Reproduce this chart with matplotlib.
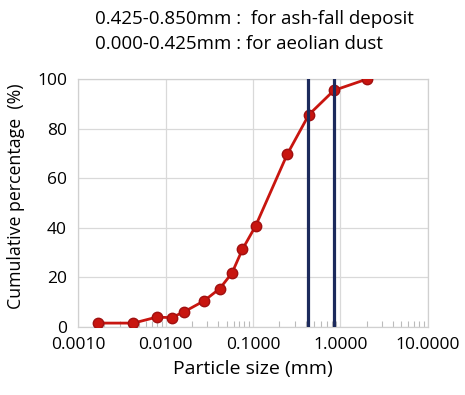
import matplotlib
matplotlib.use("Agg")
import matplotlib.pyplot as plt
from matplotlib.ticker import FixedLocator, LogLocator, NullFormatter

plt.rcParams["font.family"] = ["Open Sans", "DejaVu Sans"]

# sieve sizes (mm) and cumulative passing (%)
size_mm = [0.0017, 0.0043, 0.0079, 0.0117, 0.0162, 0.0274, 0.0417,
           0.0576, 0.0757, 0.107, 0.247, 0.436, 0.843, 2.03]
cum_pct = [1.6, 1.6, 4.0, 3.8, 6.1, 10.5, 15.5, 21.8, 31.3, 40.7,
           69.7, 85.6, 95.4, 100.0]
bounds_mm = [0.425, 0.850]
xticks = [0.001, 0.01, 0.1, 1.0, 10.0]
xticklabels = ["0.0010", "0.0100", "0.1000", "1.0000", "10.0000"]
yticks = [0, 20, 40, 60, 80, 100]

fig = plt.figure(figsize=(4.65, 3.95), dpi=100)
ax = fig.add_axes([0.168, 0.172, 0.752, 0.628])

ax.plot(size_mm, cum_pct, color="#c8150f", lw=2, marker="o", ms=7.5,
        mfc="#c8150f", mec="#a01010", zorder=3)
for b in bounds_mm:
    ax.axvline(b, color="#1c2a5c", lw=2.3, zorder=4)

ax.set_xscale("log")
ax.set_xlim(0.001, 10)
ax.set_ylim(0, 100)
ax.xaxis.set_major_locator(FixedLocator(xticks))
ax.set_xticklabels(xticklabels)
ax.xaxis.set_minor_locator(LogLocator(base=10, subs=range(2, 10)))
ax.xaxis.set_minor_formatter(NullFormatter())
ax.set_yticks(yticks)

ax.grid(True, which="major", color="#d9d9d9", lw=0.9)
ax.set_axisbelow(True)
for s in ax.spines.values():
    s.set_color("#d0d0d0")
    s.set_linewidth(0.9)
ax.tick_params(axis="x", which="major", length=0, labelsize=12.5, pad=7)
ax.tick_params(axis="x", which="minor", direction="in", length=4,
               color="#bbbbbb", width=0.8)
ax.tick_params(axis="y", length=0, labelsize=12.5, pad=8)

ax.set_xlabel("Particle size (mm)", fontsize=14, labelpad=5)
ax.set_ylabel("Cumulative percentage  (%)", fontsize=12.8)
ax.yaxis.set_label_coords(-0.152, 0.528)

fig.text(0.205, 0.952, "0.425-0.850mm :  for ash-fall deposit",
         fontsize=13.5, va="center")
fig.text(0.205, 0.889, "0.000-0.425mm : for aeolian dust",
         fontsize=13.5, va="center")

fig.savefig("out.png", dpi=100)
